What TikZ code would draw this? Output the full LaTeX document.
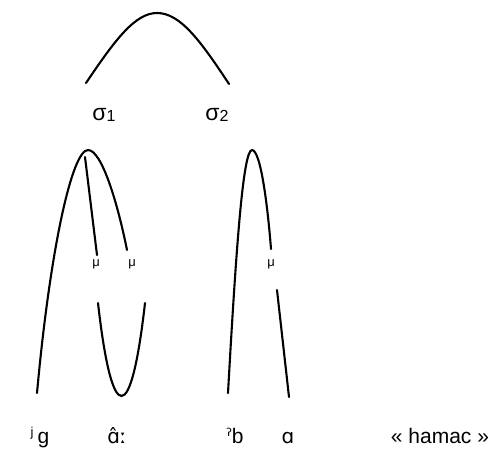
\documentclass[tikz,border=0pt]{standalone}
\usepackage{fontspec}
\setmainfont{Liberation Sans}
\newfontfamily\ipafont{DejaVu Sans}
\begin{document}
\begin{tikzpicture}[x=1pt,y=-1pt,
  lab/.style={font=\fontsize{21}{21}\selectfont, anchor=base, inner sep=0pt},
  mora/.style={font=\fontsize{13}{13}\selectfont, anchor=base, inner sep=0pt},
  arc/.style={line width=2.1pt, line cap=round}]
\useasboundingbox (0,0) rectangle (492,448);
% coordinates
\coordinate (tl) at (86,83);
\coordinate (tp) at (157,13);
\coordinate (tr) at (229,84);
\coordinate (s1peak) at (88,150);
\coordinate (s1foot) at (37,393);
\coordinate (s1m2) at (127,250);
\coordinate (s1in) at (85,157);
\coordinate (s1m1) at (97,255);
\coordinate (vl) at (98,303);
\coordinate (vr) at (145,303);
\coordinate (s2peak) at (252,150);
\coordinate (s2foot) at (228,393);
\coordinate (s2m) at (271,249);
\coordinate (mlow) at (277,290);
\coordinate (afoot) at (289,397);
% labels
\node[lab,font=\fontsize{23}{23}\selectfont] (sig1) at (104,120) {σ\raisebox{-0.15ex}{\fontsize{16}{16}\selectfont 1}};
\node[lab,font=\fontsize{23}{23}\selectfont] (sig2) at (217,120) {σ\raisebox{-0.15ex}{\fontsize{16}{16}\selectfont 2}};
\node[mora] (mu1) at (96,266) {μ};
\node[mora] (mu2) at (132,266) {μ};
\node[mora] (mu3) at (271,266) {μ};
\node[lab] (g) at (40,443) {\raisebox{0.55ex}{\fontsize{13}{13}\selectfont j}\hspace{4pt}g};
\node[lab] (aa) at (117,443) {\ipafont\fontsize{20}{20}\selectfont ɑ̂ː};
\node[lab] (b) at (235,443) {\raisebox{0.6ex}{\fontsize{11}{11}\selectfont\ipafont ʔ}b};
\node[lab] (a) at (288,443) {\ipafont\fontsize{20}{20}\selectfont ɑ};
\node[lab] (hamac) at (440,443) {« hamac »};
% arcs
\draw[arc] (tl) .. controls (115,40) and (135,13) .. (tp) .. controls (180,13) and (200,40) .. (tr);
\draw[arc] (s1foot) .. controls (50,250) and (72,150) .. (s1peak) .. controls (102,150) and (118,205) .. (s1m2);
\draw[arc] (s1in) -- (s1m1);
\draw[arc] (vl) .. controls (112,427) and (131,427) .. (vr);
\draw[arc] (s2foot) .. controls (236,250) and (243,150) .. (s2peak) .. controls (261,150) and (268,210) .. (s2m);
\draw[arc] (mlow) -- (afoot);
\end{tikzpicture}
\end{document}
